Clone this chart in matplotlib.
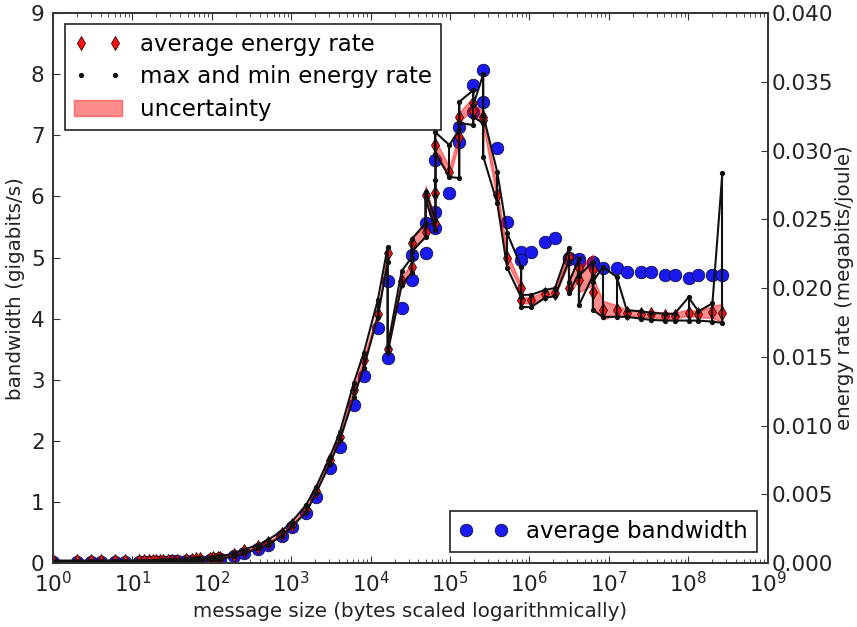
import numpy as np
import matplotlib
matplotlib.use("Agg")
import matplotlib.pyplot as plt

# message sizes in bytes (repeated sizes are repeated runs)
msg_size = [1, 2, 3, 4, 6, 8,
            12, 14, 16, 18, 20, 22, 24, 28, 32, 36,
            48, 56, 64, 72, 96, 104, 120, 128,
            192, 256, 384, 512, 768, 1024, 1536, 2048, 3072, 4096, 6144, 8192,
            12288, 16384, 16384, 24576, 32768, 32768, 49152, 49152,
            65536, 65536, 65536, 98304, 131072, 131072, 196608, 196608,
            262144, 262144, 393216, 524288, 786432, 786432,
            1048576, 1572864, 2097152, 3145728, 3145728, 4194304, 4194304,
            6291456, 6291456, 8388608, 12582912,
            16777216, 25165824, 33554432, 50331648, 67108864,
            100663296, 134217728, 201326592, 268435456]

# average bandwidth (gigabits/s)
bandwidth = [0.01, 0.01, 0.01, 0.02, 0.02, 0.02,
             0.02, 0.02, 0.02, 0.02, 0.02, 0.02, 0.02, 0.02, 0.03, 0.03,
             0.03, 0.04, 0.04, 0.04, 0.05, 0.06, 0.06, 0.07,
             0.11, 0.16, 0.23, 0.30, 0.44, 0.59, 0.82, 1.08, 1.55, 1.90, 2.59, 3.06,
             3.84, 4.62, 3.36, 4.17, 4.63, 5.05, 5.07, 5.56,
             5.48, 5.74, 6.60, 6.05, 6.89, 7.14, 7.38, 7.82,
             8.07, 7.55, 6.79, 5.58, 5.09, 4.96,
             5.09, 5.25, 5.32, 5.00, 4.98, 4.98, 4.93,
             4.93, 4.90, 4.83, 4.83,
             4.76, 4.76, 4.76, 4.71, 4.71,
             4.66, 4.71, 4.71, 4.72]

# energy rate (megabits/joule)
energy_avg = [0.00013, 0.00013, 0.00013, 0.00013, 0.00013, 0.00013,
              0.00013, 0.00013, 0.00013, 0.00013, 0.00013, 0.00013, 0.00013, 0.00018, 0.00018, 0.00018,
              0.00022, 0.00022, 0.00027, 0.00027, 0.00031, 0.00036, 0.00036, 0.00040,
              0.00058, 0.00084, 0.00116, 0.00147, 0.00213, 0.00280, 0.00391, 0.00524, 0.00747, 0.00920, 0.01258, 0.01476,
              0.01813, 0.02253, 0.01556, 0.02053, 0.02151, 0.02329, 0.02409, 0.02676,
              0.02471, 0.02689, 0.03040, 0.02844, 0.03098, 0.03244, 0.03347, 0.03289,
              0.03244, 0.03222, 0.02676, 0.02222, 0.02000, 0.01911,
              0.01911, 0.01956, 0.01964, 0.02227, 0.02000, 0.02147, 0.02058,
              0.02133, 0.01973, 0.01840, 0.01840,
              0.01818, 0.01809, 0.01809, 0.01800, 0.01800,
              0.01822, 0.01809, 0.01827, 0.01818]

energy_max = [0.00018, 0.00018, 0.00018, 0.00018, 0.00018, 0.00018,
              0.00018, 0.00018, 0.00018, 0.00018, 0.00018, 0.00022, 0.00022, 0.00022, 0.00022, 0.00022,
              0.00027, 0.00031, 0.00036, 0.00036, 0.00040, 0.00044, 0.00044, 0.00049,
              0.00071, 0.00098, 0.00133, 0.00169, 0.00236, 0.00302, 0.00422, 0.00551, 0.00773, 0.00951, 0.01311, 0.01529,
              0.01911, 0.02298, 0.01573, 0.02124, 0.02222, 0.02356, 0.02471, 0.02702,
              0.02498, 0.02787, 0.03133, 0.03040, 0.03156, 0.03356, 0.03440, 0.03333,
              0.03556, 0.03258, 0.02844, 0.02400, 0.02156, 0.01951,
              0.01951, 0.01987, 0.02000, 0.02293, 0.02044, 0.02213, 0.02089,
              0.02191, 0.02044, 0.02156, 0.02080,
              0.01840, 0.01831, 0.01822, 0.01813, 0.01813,
              0.01933, 0.01831, 0.01889, 0.02836]

energy_min = [0.00009, 0.00009, 0.00009, 0.00009, 0.00009, 0.00009,
              0.00009, 0.00009, 0.00009, 0.00009, 0.00009, 0.00009, 0.00009, 0.00013, 0.00013, 0.00013,
              0.00018, 0.00018, 0.00022, 0.00022, 0.00027, 0.00031, 0.00031, 0.00031,
              0.00049, 0.00071, 0.00107, 0.00133, 0.00200, 0.00267, 0.00369, 0.00507, 0.00724, 0.00893, 0.01209, 0.01422,
              0.01791, 0.02191, 0.01533, 0.02022, 0.02111, 0.02262, 0.02373, 0.02653,
              0.02422, 0.02667, 0.02978, 0.02809, 0.02800, 0.03200, 0.03187, 0.03244,
              0.03200, 0.02956, 0.02618, 0.02147, 0.01933, 0.01862,
              0.01862, 0.01929, 0.01942, 0.02200, 0.01964, 0.02111, 0.01876,
              0.02089, 0.01840, 0.01791, 0.01791,
              0.01791, 0.01778, 0.01769, 0.01764, 0.01764,
              0.01764, 0.01764, 0.01756, 0.01747]

energy_err = [0.00004, 0.00004, 0.00004, 0.00004, 0.00004, 0.00004,
              0.00004, 0.00004, 0.00004, 0.00004, 0.00004, 0.00004, 0.00004, 0.00004, 0.00004, 0.00004,
              0.00004, 0.00004, 0.00004, 0.00004, 0.00004, 0.00004, 0.00004, 0.00004,
              0.00004, 0.00004, 0.00004, 0.00009, 0.00009, 0.00009, 0.00013, 0.00013, 0.00013, 0.00013, 0.00022, 0.00022,
              0.00022, 0.00022, 0.00022, 0.00022, 0.00036, 0.00036, 0.00044, 0.00067,
              0.00022, 0.00044, 0.00036, 0.00036, 0.00036, 0.00036, 0.00044, 0.00044,
              0.00044, 0.00044, 0.00044, 0.00036, 0.00022, 0.00022,
              0.00022, 0.00022, 0.00022, 0.00044, 0.00044, 0.00089, 0.00089,
              0.00111, 0.00111, 0.00067, 0.00036,
              0.00022, 0.00022, 0.00022, 0.00022, 0.00022,
              0.00022, 0.00022, 0.00044, 0.00067]

x = np.array(msg_size, dtype=float)
e_avg = np.array(energy_avg)
e_err = np.array(energy_err)
txt = '#222222'

fig = plt.figure(figsize=(8.57, 6.27), dpi=100)
ax1 = fig.add_axes([0.0618, 0.102, 0.834, 0.877])
ax2 = ax1.twinx()

bw_line, = ax1.plot(x, bandwidth, 'o', color='#1a1af0', mec='#101040', mew=0.6, ms=9,
                    label='average bandwidth')

ax2.fill_between(x, e_avg - e_err, e_avg + e_err, facecolor='#ff0000', alpha=0.45,
                 edgecolor='#ff0000', lw=1, label='uncertainty')
ax2.plot(x, e_avg, 'd', color='#ff1010', mec='#300000', mew=0.6, ms=7.5,
         label='average energy rate')
ax2.vlines(x, energy_min, energy_max, colors='#111111', lw=1.5)
ax2.plot(x, energy_max, '-', color='#111111', lw=1.5)
ax2.plot(x, energy_min, '-', color='#111111', lw=1.5)
ax2.plot(np.concatenate([x, x]), energy_max + energy_min, 'o', color='#111111',
         ms=3.8, mew=0, label='max and min energy rate')

ax1.set_xscale('log')
ax1.set_xlim(1, 1e9)
ax1.set_ylim(0, 9)
ax2.set_ylim(0, 0.04)
ax2.set_yticks(np.arange(0, 0.0401, 0.005))
ax2.yaxis.set_major_formatter(plt.FormatStrFormatter('%.3f'))

for ax in (ax1, ax2):
    for s in ax.spines.values():
        s.set_color('#333333')
        s.set_linewidth(1.2)
ax1.tick_params(which='both', direction='in', top=True, labelsize=15.5, colors='#333333',
                labelcolor=txt, pad=6)
ax1.tick_params(which='major', length=5)
ax1.tick_params(which='minor', length=3)
ax2.tick_params(direction='in', length=5, labelsize=15.5, colors='#333333',
                labelcolor=txt, pad=3)

ax1.set_xlabel('message size (bytes scaled logarithmically)', fontsize=14.3, color=txt)
ax1.set_ylabel('bandwidth (gigabits/s)', fontsize=14.3, color=txt)
ax2.set_ylabel('energy rate (megabits/joule)', fontsize=14.3, color=txt, labelpad=1)

legend_style = dict(borderaxespad=0, fontsize=16.5, numpoints=2, fancybox=False,
                    framealpha=1, edgecolor=txt, handlelength=2.1, handletextpad=0.8)
h, l = ax2.get_legend_handles_labels()
order = [l.index('average energy rate'), l.index('max and min energy rate'), l.index('uncertainty')]
leg1 = ax2.legend([h[i] for i in order], [l[i] for i in order], loc='upper left',
                  bbox_to_anchor=(0.017, 0.98), labelspacing=0.42, borderpad=0.38,
                  **legend_style)
leg1.get_frame().set_linewidth(1.2)
ax2.add_artist(leg1)
leg2 = ax2.legend([bw_line], ['average bandwidth'], loc='lower right',
                  bbox_to_anchor=(0.985, 0.02), **legend_style)
leg2.get_frame().set_linewidth(1.2)

fig.savefig('out.png', dpi=100)
